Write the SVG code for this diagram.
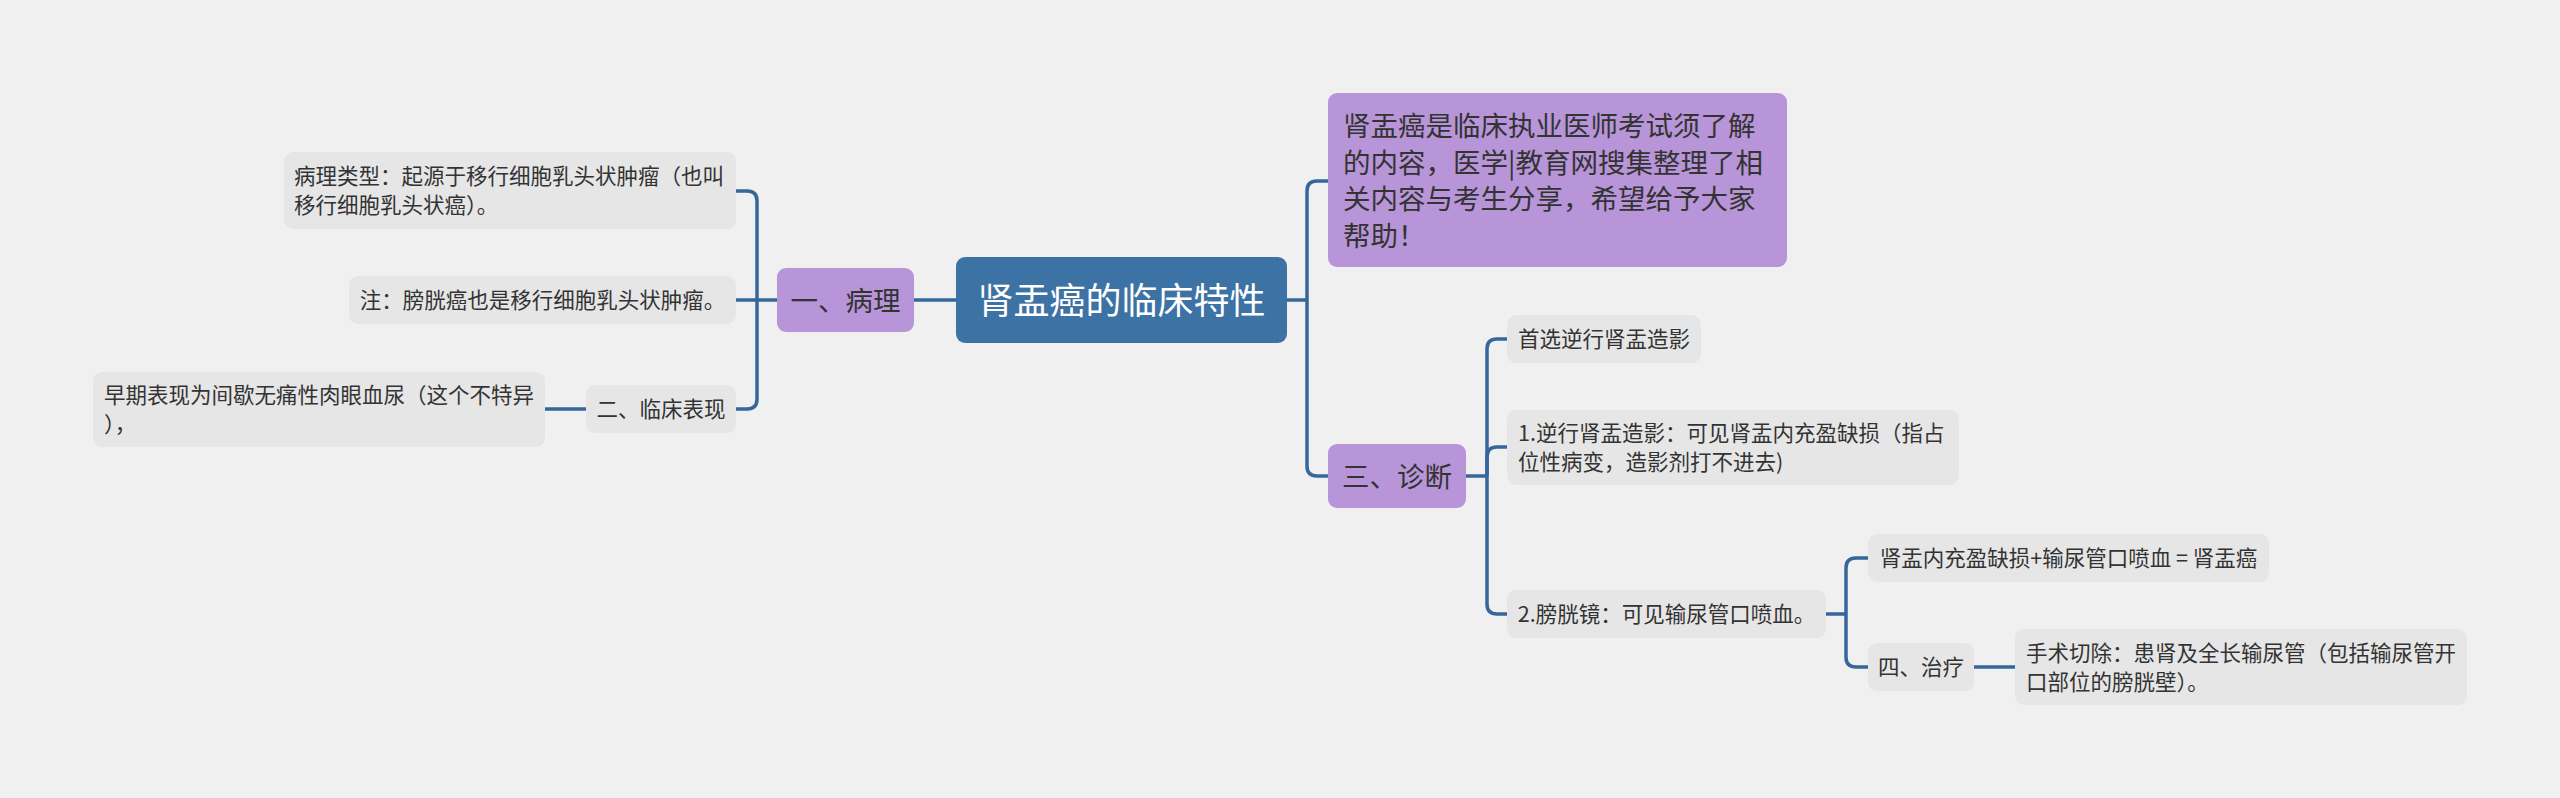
<svg xmlns="http://www.w3.org/2000/svg" width="2560" height="798" viewBox="0 0 2560 798">
<style>
text{font-family:"Noto Sans CJK SC","Noto Sans",sans-serif;fill:#333}
.l{fill:none;stroke:#35679a;stroke-width:3.5}
.g{fill:#e6e6e6}
.p{fill:#b795d8}
.s{font-size:21.5px}
.m{font-size:27.5px}
.c{text-anchor:middle}
</style>
<rect width="2560" height="798" fill="#f0f0f0"/>
<g id="connectors">
<path class="l" d="M956,300H914"/>
<path class="l" d="M777,300H736"/>
<path class="l" d="M757,300V201Q757,191 747,191H736"/>
<path class="l" d="M757,300V399Q757,409 747,409H736"/>
<path class="l" d="M586,409H545"/>
<path class="l" d="M1287,300H1307"/>
<path class="l" d="M1307,300V191Q1307,181 1317,181H1328"/>
<path class="l" d="M1307,300V466Q1307,476 1317,476H1328"/>
<path class="l" d="M1466,476H1487"/>
<path class="l" d="M1487,476V349Q1487,339 1497,339H1507"/>
<path class="l" d="M1487,476V457Q1487,447 1497,447H1507"/>
<path class="l" d="M1487,476V604Q1487,614 1497,614H1507"/>
<path class="l" d="M1826,614H1846"/>
<path class="l" d="M1846,614V568Q1846,558 1856,558H1868"/>
<path class="l" d="M1846,614V657Q1846,667 1856,667H1868"/>
<path class="l" d="M1974,667H2015"/>
</g>
<g id="root">
<rect x="956" y="257" width="331" height="86" rx="9" fill="#3d72a4"/>
<text x="1121.5" y="313.5" class="c" style="font-size:36px;fill:#fff">肾盂癌的临床特性</text>
</g>
<g id="n1">
<rect class="p" x="777" y="268" width="137" height="64" rx="9"/>
<text x="845.5" y="310.5" class="m c">一、病理</text>
</g>
<g id="n1a">
<rect class="g" x="284" y="152" width="452" height="77" rx="9"/>
<text x="294" y="184" class="s">病理类型：起源于移行细胞乳头状肿瘤（也叫</text>
<text x="294" y="213" class="s">移行细胞乳头状癌）。</text>
</g>
<g id="n1b">
<rect class="g" x="349" y="276" width="387" height="48" rx="9"/>
<text x="542.5" y="308" class="s c">注：膀胱癌也是移行细胞乳头状肿瘤。</text>
</g>
<g id="n2">
<rect class="g" x="586" y="385" width="150" height="48" rx="9"/>
<text x="661" y="417" class="s c">二、临床表现</text>
</g>
<g id="n2a">
<rect class="g" x="93" y="372" width="452" height="75" rx="9"/>
<text x="104" y="403" class="s">早期表现为间歇无痛性肉眼血尿（这个不特异</text>
<text x="104" y="432" class="s">），</text>
</g>
<g id="intro">
<rect class="p" x="1328" y="93" width="459" height="174" rx="9"/>
<text x="1343" y="136" class="m">肾盂癌是临床执业医师考试须了解</text>
<text x="1343" y="172.5" class="m">的内容，医学|教育网搜集整理了相</text>
<text x="1343" y="209" class="m">关内容与考生分享，希望给予大家</text>
<text x="1343" y="245.5" class="m">帮助！</text>
</g>
<g id="n3">
<rect class="p" x="1328" y="444" width="138" height="64" rx="9"/>
<text x="1397" y="486.5" class="m c">三、诊断</text>
</g>
<g id="n3a">
<rect class="g" x="1507" y="315" width="194" height="48" rx="9"/>
<text x="1604" y="347" class="s c">首选逆行肾盂造影</text>
</g>
<g id="n3b">
<rect class="g" x="1507" y="410" width="452" height="75" rx="9"/>
<text x="1518" y="441" class="s">1.逆行肾盂造影：可见肾盂内充盈缺损（指占</text>
<text x="1518" y="470" class="s">位性病变，造影剂打不进去)</text>
</g>
<g id="n3c">
<rect class="g" x="1507" y="590" width="319" height="48" rx="9"/>
<text x="1666.5" y="622" class="s c">2.膀胱镜：可见输尿管口喷血。</text>
</g>
<g id="n3c1">
<rect class="g" x="1868" y="534" width="401" height="48" rx="9"/>
<text x="2068.5" y="566" class="s c">肾盂内充盈缺损+输尿管口喷血 = 肾盂癌</text>
</g>
<g id="n4">
<rect class="g" x="1868" y="643" width="106" height="48" rx="9"/>
<text x="1921" y="675" class="s c">四、治疗</text>
</g>
<g id="n4a">
<rect class="g" x="2015" y="629" width="452" height="76" rx="9"/>
<text x="2026" y="660.5" class="s">手术切除：患肾及全长输尿管（包括输尿管开</text>
<text x="2026" y="689.5" class="s">口部位的膀胱壁）。</text>
</g>
</svg>
